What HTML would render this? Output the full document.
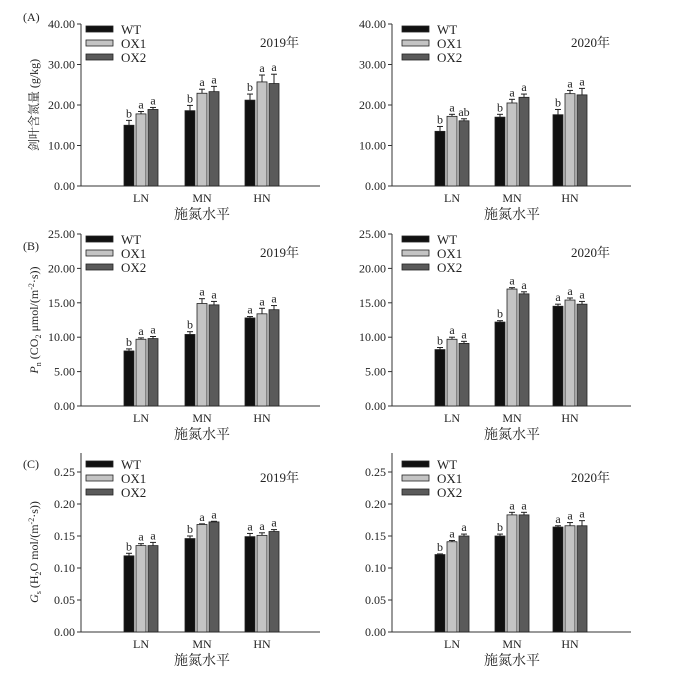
<!DOCTYPE html><html><head><meta charset="utf-8"><style>body{margin:0;background:#fff}svg{display:block;font-family:"Liberation Serif","Noto Serif CJK SC",serif}</style></head><body>
<svg id="s" width="681" height="673" xmlns="http://www.w3.org/2000/svg"></svg>
<script>
const S=document.getElementById('s');let h='';
const col=['#111','#c4c4c4','#5a5a5a'];
const panels=[
{ax:81,gx:[124,185,245],top:24,bot:186,max:40,ticks:[0,10,20,30,40],fmt:2,axTop:24,yr:'2019年',
 v:[[15,17.8,18.9],[18.6,22.9,23.3],[21.2,25.7,25.3]],e:[[1.2,.6,.5],[1.3,1,1.3],[1.5,1.7,2.3]],l:[['b','a','a'],['b','a','a'],['b','a','a']]},
{ax:392,gx:[435,495,553],top:24,bot:186,max:40,ticks:[0,10,20,30,40],fmt:2,axTop:24,yr:'2020年',
 v:[[13.5,17.2,16.1],[17,20.5,21.9],[17.6,22.8,22.5]],e:[[1.2,.5,.5],[.7,.9,.8],[1.3,.8,1.6]],l:[['b','a','ab'],['b','a','a'],['b','a','a']]},
{ax:81,gx:[124,185,245],top:234,bot:406,max:25,ticks:[0,5,10,15,20,25],fmt:2,axTop:234,yr:'2019年',
 v:[[8,9.7,9.8],[10.4,14.9,14.7],[12.8,13.4,14]],e:[[.3,.2,.3],[.4,.7,.5],[.2,.8,.6]],l:[['b','a','a'],['b','a','a'],['a','a','a']]},
{ax:392,gx:[435,495,553],top:234,bot:406,max:25,ticks:[0,5,10,15,20,25],fmt:2,axTop:234,yr:'2020年',
 v:[[8.2,9.7,9.1],[12.2,17,16.3],[14.5,15.4,14.8]],e:[[.3,.3,.3],[.2,.2,.3],[.3,.3,.4]],l:[['b','a','a'],['b','a','a'],['a','a','a']]},
{ax:81,gx:[124,185,245],top:472,bot:632,max:.25,ticks:[0,.05,.1,.15,.2,.25],fmt:2,axTop:453,yr:'2019年',
 v:[[.119,.135,.135],[.146,.168,.172],[.149,.151,.157]],e:[[.004,.003,.005],[.004,.001,.001],[.005,.004,.003]],l:[['b','a','a'],['b','a','a'],['a','a','a']]},
{ax:392,gx:[435,495,553],top:472,bot:632,max:.25,ticks:[0,.05,.1,.15,.2,.25],fmt:2,axTop:453,yr:'2020年',
 v:[[.121,.141,.150],[.150,.183,.183],[.164,.166,.166]],e:[[.001,.002,.003],[.003,.004,.004],[.002,.005,.008]],l:[['b','a','a'],['b','a','a'],['a','a','a']]}
];
panels.forEach((p,pi)=>{
 const Y=v=>p.bot-(p.bot-p.top)*v/p.max;
 const right=p.ax+239;
 h+=`<line x1="${p.ax}" y1="${p.axTop}" x2="${p.ax}" y2="${p.bot}" stroke="#333" stroke-width="1"/>`;
 h+=`<line x1="${p.ax}" y1="${p.bot}" x2="${right}" y2="${p.bot}" stroke="#333" stroke-width="1"/>`;
 p.ticks.forEach(t=>{const y=Y(t);h+=`<line x1="${p.ax-4}" y1="${y}" x2="${p.ax}" y2="${y}" stroke="#333"/><text x="${p.ax-6}" y="${y+4}" font-size="12" text-anchor="end" fill="#222">${t.toFixed(2)}</text>`;});
 ['LN','MN','HN'].forEach((n,g)=>{
  h+=`<text x="${p.gx[g]+17}" y="${p.bot+16}" font-size="12" text-anchor="middle" fill="#222">${n}</text>`;
  for(let i=0;i<3;i++){const x=p.gx[g]+i*12,v=p.v[g][i],y=Y(v),ye=Y(v+p.e[g][i]);
   h+=`<line x1="${x+5}" y1="${ye}" x2="${x+5}" y2="${y}" stroke="#222"/><line x1="${x+2}" y1="${ye}" x2="${x+8}" y2="${ye}" stroke="#222"/>`;
   h+=`<rect x="${x}" y="${y}" width="10" height="${p.bot-y}" fill="${col[i]}" stroke="#222" stroke-width="0.8"/>`;
   h+=`<text x="${x+5}" y="${ye-3}" font-size="12" text-anchor="middle" fill="#222">${p.l[g][i]}</text>`;}
 });
 const cx=p.gx[1]+17;
 h+=`<text x="${cx}" y="${p.bot+33}" font-size="14" text-anchor="middle" fill="#222">施氮水平</text>`;
 const ly=p.axTop===453?465:p.top+6, lx=p.ax+(pi%2?10:5);
 ['WT','OX1','OX2'].forEach((n,i)=>{h+=`<rect x="${lx}" y="${ly+i*14-4}" width="27" height="6" fill="${col[i]}" stroke="#222" stroke-width="0.8"/><text x="${lx+35}" y="${ly+i*14+4}" font-size="13" fill="#222">${n}</text>`;});
 h+=`<text x="${p.ax+218}" y="${ly+17}" font-size="13" text-anchor="end" fill="#222">${p.yr}</text>`;
});
h+=`<text x="23" y="21" font-size="12" fill="#222">(A)</text><text x="23" y="250" font-size="12" fill="#222">(B)</text><text x="23" y="468" font-size="12" fill="#222">(C)</text>`;
h+=`<text transform="translate(38,105) rotate(-90)" font-size="12" text-anchor="middle" fill="#222">剑叶含氮量 (g/kg)</text>`;
h+=`<text transform="translate(38,320) rotate(-90)" font-size="12" text-anchor="middle" fill="#222"><tspan font-style="italic">P</tspan><tspan font-size="8" dy="3">n</tspan><tspan dy="-3"> (CO</tspan><tspan font-size="8" dy="3">2</tspan><tspan dy="-3"> μmol/(m</tspan><tspan font-size="8" dy="-4">-2</tspan><tspan dy="4">·s))</tspan></text>`;
h+=`<text transform="translate(38,552) rotate(-90)" font-size="12" text-anchor="middle" fill="#222"><tspan font-style="italic">G</tspan><tspan font-size="8" dy="3">s</tspan><tspan dy="-3"> (H</tspan><tspan font-size="8" dy="3">2</tspan><tspan dy="-3">O mol/(m</tspan><tspan font-size="8" dy="-4">-2</tspan><tspan dy="4">·s))</tspan></text>`;
S.innerHTML=h;
</script></body></html>
